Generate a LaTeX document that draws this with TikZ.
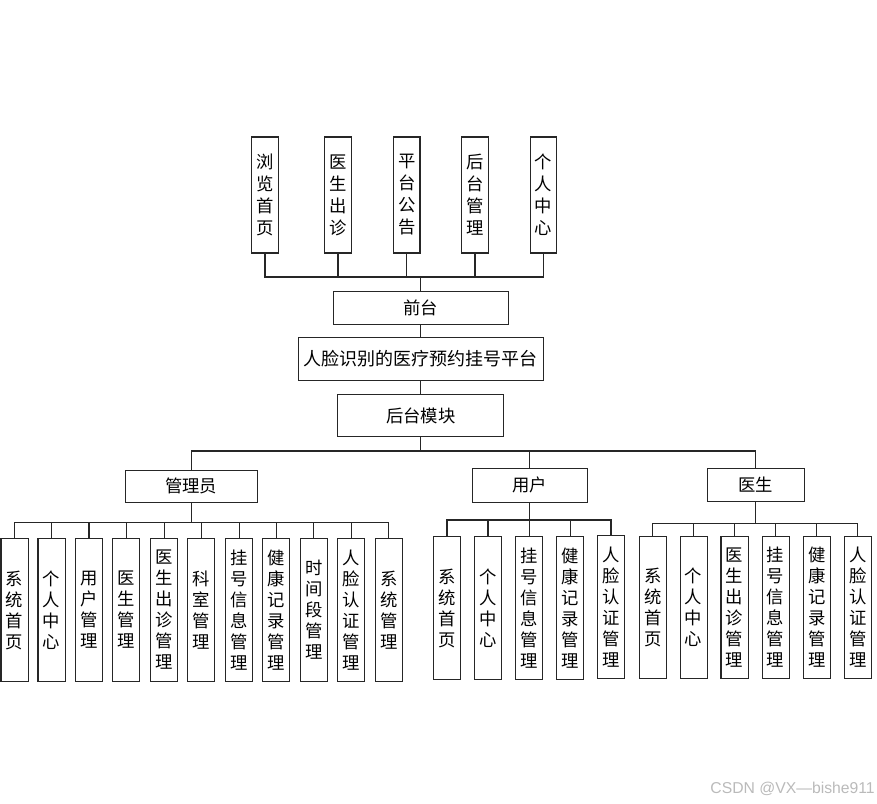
\documentclass[tikz,border=0pt]{standalone}
\usepackage{fontspec}
\setmainfont{Liberation Sans}
\newfontfamily\cjk{Noto Sans CJK SC}
\tikzset{
  box/.style={draw=black!85, line width=0.8pt, inner sep=0pt, align=center, fill=white},
  hbox/.style={box, font=\cjk\fontsize{13}{15}\selectfont},
  topbox/.style={box, minimum width=19.9pt, minimum height=87pt, font=\cjk\fontsize{13}{16.5}\selectfont},
  kid/.style={box, minimum width=20.3pt, minimum height=106.8pt, font=\cjk\fontsize{13}{15.75}\selectfont},
  wire/.style={draw=black!85, line width=0.8pt}
}
\begin{document}
\begin{tikzpicture}[x=0.75pt, y=-0.75pt]
\useasboundingbox (0,0) rectangle (877,803);
% top row
\node[topbox] (t1) at (265,195) {浏\\览\\首\\页};
\node[topbox] (t2) at (338,195) {医\\生\\出\\诊};
\node[topbox] (t3) at (406.7,195) {平\\台\\公\\告};
\node[topbox] (t4) at (475,195) {后\\台\\管\\理};
\node[topbox] (t5) at (543.3,195) {个\\人\\中\\心};
% middle column
\node[hbox, minimum width=131.25pt, minimum height=24.45pt] (front) at (420.8,308) {前台};
\node[box, minimum width=183.75pt, minimum height=32.55pt, font=\cjk\fontsize{13.5}{16}\selectfont] (plat) at (420.8,359) {人脸识别的医疗预约挂号平台};
\node[hbox, minimum width=124.7pt, minimum height=31.8pt] (back) at (420.8,415.5) {后台模块};
% roles
\node[hbox, minimum width=99.2pt, minimum height=24.2pt] (admin) at (191.2,486.2) {管理员};
\node[hbox, minimum width=86.25pt, minimum height=25.5pt] (user) at (529.6,485.3) {用户};
\node[hbox, minimum width=72.5pt, minimum height=25pt] (doc) at (755.7,485) {医生};
% admin children
\node[kid] (a1) at (14.5,610) {系\\统\\首\\页};
\node[kid] (a2) at (51.5,610) {个\\人\\中\\心};
\node[kid] (a3) at (89,610) {用\\户\\管\\理};
\node[kid] (a4) at (126.4,610) {医\\生\\管\\理};
\node[kid] (a5) at (164.2,610) {医\\生\\出\\诊\\管\\理};
\node[kid] (a6) at (201.4,610) {科\\室\\管\\理};
\node[kid] (a7) at (239.2,610) {挂\\号\\信\\息\\管\\理};
\node[kid] (a8) at (276.4,610) {健\\康\\记\\录\\管\\理};
\node[kid] (a9) at (313.7,610) {时\\间\\段\\管\\理};
\node[kid] (a10) at (351.2,610) {人\\脸\\认\\证\\管\\理};
\node[kid] (a11) at (388.7,610) {系\\统\\管\\理};
% user children
\node[kid] (u1) at (447,608) {系\\统\\首\\页};
\node[kid] (u2) at (488,608) {个\\人\\中\\心};
\node[kid] (u3) at (529.3,608) {挂\\号\\信\\息\\管\\理};
\node[kid] (u4) at (570.3,608) {健\\康\\记\\录\\管\\理};
\node[kid] (u5) at (611,607) {人\\脸\\认\\证\\管\\理};
% doctor children
\node[kid] (d1) at (652.7,607.5) {系\\统\\首\\页};
\node[kid] (d2) at (693.6,607.5) {个\\人\\中\\心};
\node[kid] (d3) at (734.5,607.5) {医\\生\\出\\诊\\管\\理};
\node[kid] (d4) at (775.6,607.5) {挂\\号\\信\\息\\管\\理};
\node[kid] (d5) at (816.7,607.5) {健\\康\\记\\录\\管\\理};
\node[kid] (d6) at (857.9,607.5) {人\\脸\\认\\证\\管\\理};
% bus coordinates
\coordinate (topbus) at (420.8,277);
\coordinate (mainbus) at (420.8,451);
\coordinate (abus) at (191.2,522.3);
\coordinate (ubus) at (529.6,520);
\coordinate (dbus) at (755.7,523.3);
% top connectors
\draw[wire] (t1.south) -- (t1.south |- topbus) -- (t5.south |- topbus) -- (t5.south);
\foreach \n in {t2,t3,t4} \draw[wire] (\n.south) -- (\n.south |- topbus);
\draw[wire] (topbus) -- (front.north);
\draw[wire] (front.south) -- (plat.north);
\draw[wire] (plat.south) -- (back.north);
\draw[wire] (back.south) -- (mainbus);
\draw[wire] (admin.north |- mainbus) -- (doc.north |- mainbus);
\draw[wire] (admin.north |- mainbus) -- (admin.north);
\draw[wire] (user.north |- mainbus) -- (user.north);
\draw[wire] (doc.north |- mainbus) -- (doc.north);
% admin connectors
\draw[wire] (admin.south) -- (abus);
\draw[wire] (a1.north) -- (a1.north |- abus) -- (a11.north |- abus) -- (a11.north);
\foreach \n in {a2,a3,a4,a5,a6,a7,a8,a9,a10} \draw[wire] (\n.north) -- (\n.north |- abus);
% user connectors
\draw[wire] (user.south) -- (ubus);
\draw[wire] (u1.north) -- (u1.north |- ubus) -- (u5.north |- ubus) -- (u5.north);
\foreach \n in {u2,u3,u4} \draw[wire] (\n.north) -- (\n.north |- ubus);
% doctor connectors
\draw[wire] (doc.south) -- (dbus);
\draw[wire] (d1.north) -- (d1.north |- dbus) -- (d6.north |- dbus) -- (d6.north);
\foreach \n in {d2,d3,d4,d5} \draw[wire] (\n.north) -- (\n.north |- dbus);
% watermark
\node[anchor=east, text=black!27, font=\fontsize{11.8}{14}\selectfont, inner sep=0pt] (wm) at (875,789) {CSDN @VX—bishe911};
\end{tikzpicture}
\end{document}
